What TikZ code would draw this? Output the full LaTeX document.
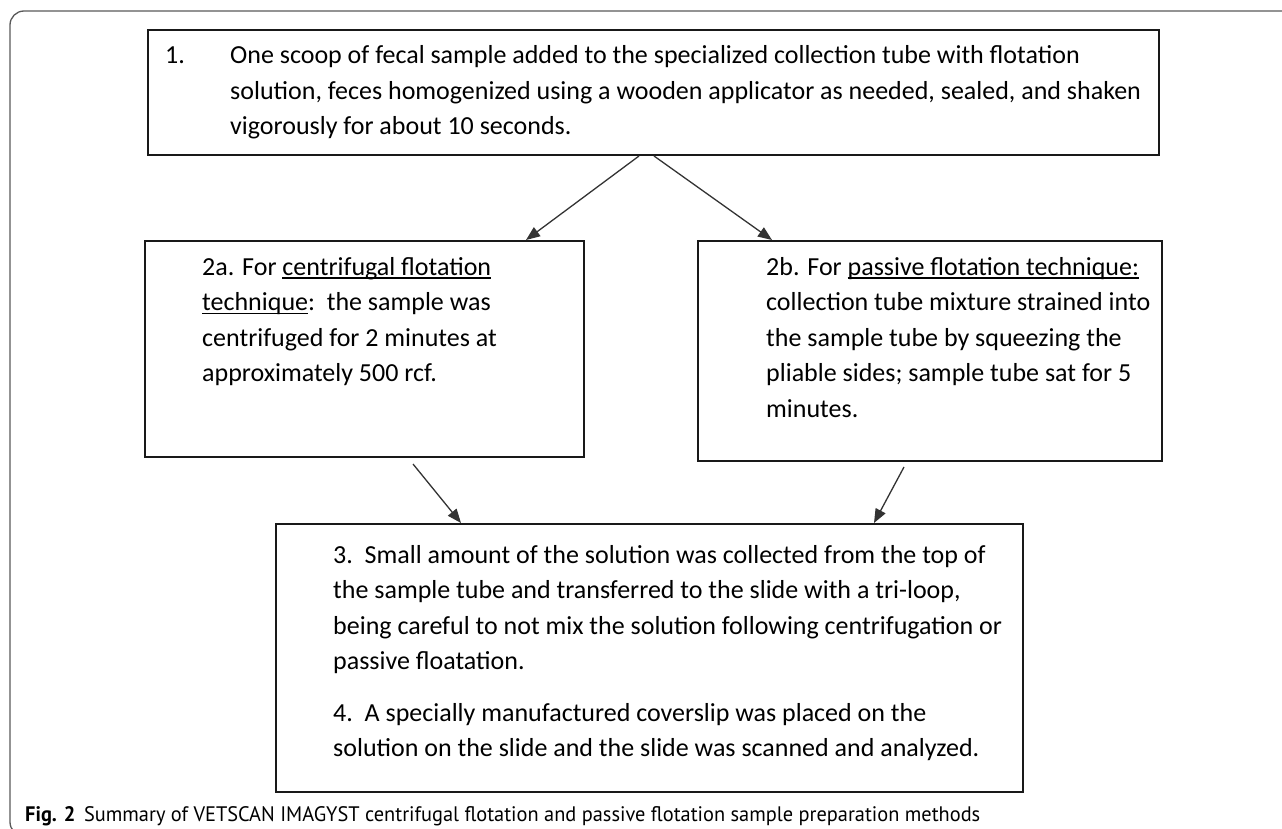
\documentclass[tikz,border=0pt]{standalone}
\usepackage{fontspec}
\setmainfont{Carlito}
\newfontfamily\capfont{PT Sans}
\usepackage{graphicx}
\usetikzlibrary{arrows.meta,calc}
\newcommand\ulx[1]{\setbox0=\hbox{#1}\rlap{\rule[-3.5pt]{\wd0}{1.4pt}}\box0}
\newcommand\lines[1]{\vtop{\halign{##\hfil\cr#1\crcr}}}
\begin{document}
\begin{tikzpicture}[x=1pt,y=-1pt,
  box/.style={draw=black!90, line width=2pt, rectangle, inner sep=0pt, anchor=north west},
  txt/.style={inner sep=0pt, anchor=base west, font=\fontsize{26}{35.5}\selectfont},
  conn/.style={draw=black!80, line width=1.3pt, -{Triangle[length=14pt,width=11pt]}},
  frame/.style={draw=black!65, line width=1.3pt, rounded corners=14pt}]
\useasboundingbox (0,0) rectangle (1282,829);
\begin{scope}
\clip (0,0) rectangle (1282,829);
\draw[frame] (1300,11) -- (10,11) -- (10,836) -- (1300,836);
\end{scope}
% boxes
\node[box, minimum width=1011pt, minimum height=125pt] (b1) at (147,29) {};
\node[box, minimum width=439pt, minimum height=216pt] (b2a) at (144,240) {};
\node[box, minimum width=464pt, minimum height=220pt] (b2b) at (697,240) {};
\node[box, minimum width=747pt, minimum height=268pt] (b3) at (275,523) {};
% texts
\node[txt] (t1) at (230,64) {\lines{\llap{\makebox[65pt][l]{1.}}One scoop of fecal sample added to the specialized collection tube with flotation\cr
solution, feces homogenized using a wooden applicator as needed, sealed, and shaken\cr
vigorously for about 10 seconds.}};
\node[txt] (t2a) at (202,275) {\lines{2a. For \ulx{centrifugal flotation}\cr
\ulx{technique}:\ \ the sample was\cr
centrifuged for 2 minutes at\cr
approximately 500 rcf.}};
\node[txt] (t2b) at (766,275) {\lines{2b. For \ulx{passive flotation technique:}\cr
collection tube mixture strained into\cr
the sample tube by squeezing the\cr
pliable sides; sample tube sat for 5\cr
minutes.}};
\node[txt] (t3) at (333,563) {\lines{3.\ \ Small amount of the solution was collected from the top of\cr
the sample tube and transferred to the slide with a tri-loop,\cr
being careful to not mix the solution following centrifugation or\cr
passive floatation.\cr
\noalign{\vskip 16pt}
4.\ \ A specially manufactured coverslip was placed on the\cr
solution on the slide and the slide was scanned and analyzed.}};
% connectors
\coordinate (a1s) at ($(b1.south)+(-14.5,0)$);
\coordinate (a2s) at ($(b1.south)+(0.5,0)$);
\coordinate (a1e) at ($(b2a.north east)+(-59,0)$);
\coordinate (a2e) at ($(b2b.north west)+(75,0)$);
\coordinate (a3s) at ($(b2a.south west)+(269,6)$);
\coordinate (a3e) at ($(b3.north west)+(186,0)$);
\coordinate (a4s) at ($(b2b.south west)+(207,5)$);
\coordinate (a4e) at ($(b3.north east)+(-150,0)$);
\draw[conn] (a1s) -- (a1e);
\draw[conn] (a2s) -- (a2e);
\draw[conn] (a3s) -- (a3e);
\draw[conn] (a4s) -- (a4e);
% caption
\node[anchor=base west, inner sep=0pt, font=\capfont\fontsize{21}{24}\selectfont] (cap) at (25,821) {\scalebox{0.97}[1]{\textbf{Fig. 2}\hspace{9pt}Summary of VETSCAN IMAGYST centrifugal flotation and passive flotation sample preparation methods}};
\end{tikzpicture}
\end{document}
